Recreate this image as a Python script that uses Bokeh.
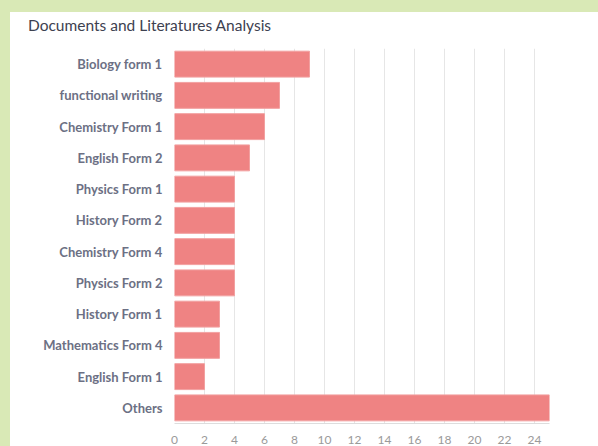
from bokeh.plotting import figure
from bokeh.models import FixedTicker, FactorRange, Range1d, ColumnDataSource, Div
from bokeh.layouts import column
from bokeh.embed import file_html
from bokeh.resources import INLINE

title_text = "Documents and Literatures Analysis"
categories = ["Biology form 1", "functional writing", "Chemistry Form 1", "English Form 2",
              "Physics Form 1", "History Form 2", "Chemistry Form 4", "Physics Form 2",
              "History Form 1", "Mathematics Form 4", "English Form 1", "Others"]
values = [9, 7, 6, 5, 4, 4, 4, 4, 3, 3, 2, 25]
x_ticks = [0, 2, 4, 6, 8, 10, 12, 14, 16, 18, 20, 22, 24]

src = ColumnDataSource(dict(cat=categories, val=values))

p = figure(width=588, height=404, output_backend="svg", toolbar_location=None,
           y_range=FactorRange(*list(reversed(categories))), x_range=Range1d(0, 25),
           min_border_left=164, min_border_right=49, min_border_top=6, min_border_bottom=23,
           background_fill_color="white", border_fill_color="white", outline_line_color=None,
           margin=(0, 0, 0, 0))

p.hbar(y="cat", right="val", left=0, height=0.83, source=src,
       fill_color="#ef8383", line_color="#f2a0a0", line_width=1)

p.xaxis.ticker = FixedTicker(ticks=x_ticks)
p.xaxis.major_label_text_font = "Lato"
p.xaxis.major_label_text_font_size = "12px"
p.xaxis.major_label_text_color = "#9a9a9a"
p.xaxis.axis_line_color = "#dddddd"
p.xaxis.major_tick_line_color = None
p.xaxis.minor_tick_line_color = None
p.xaxis.major_label_standoff = 6

p.yaxis.major_label_text_font = "Lato"
p.yaxis.major_label_text_font_size = "13px"
p.yaxis.major_label_text_font_style = "bold"
p.yaxis.major_label_text_color = "#6c7084"
p.yaxis.axis_line_color = None
p.yaxis.major_tick_line_color = None
p.yaxis.minor_tick_line_color = None
p.yaxis.major_label_standoff = 6

p.ygrid.grid_line_color = None
p.xgrid.grid_line_color = "#e6e6e6"
p.xgrid.ticker = FixedTicker(ticks=x_ticks + [25])

title_div = Div(text=title_text, width=588, height=30, margin=(0, 0, 0, 0),
                styles={"background-color": "white", "font-family": "Lato",
                        "font-size": "15.5px", "color": "#3d4150",
                        "padding-left": "18px", "padding-top": "4px",
                        "box-sizing": "border-box", "line-height": "18px",
                        "white-space": "nowrap"})

inner = column(title_div, p, spacing=0, styles={"background-color": "white"})
layout = column(inner,
                styles={"background-color": "#d9e9b6", "padding-left": "10px", "padding-top": "12px"})

open("out.html", "w").write(file_html(layout, INLINE))
